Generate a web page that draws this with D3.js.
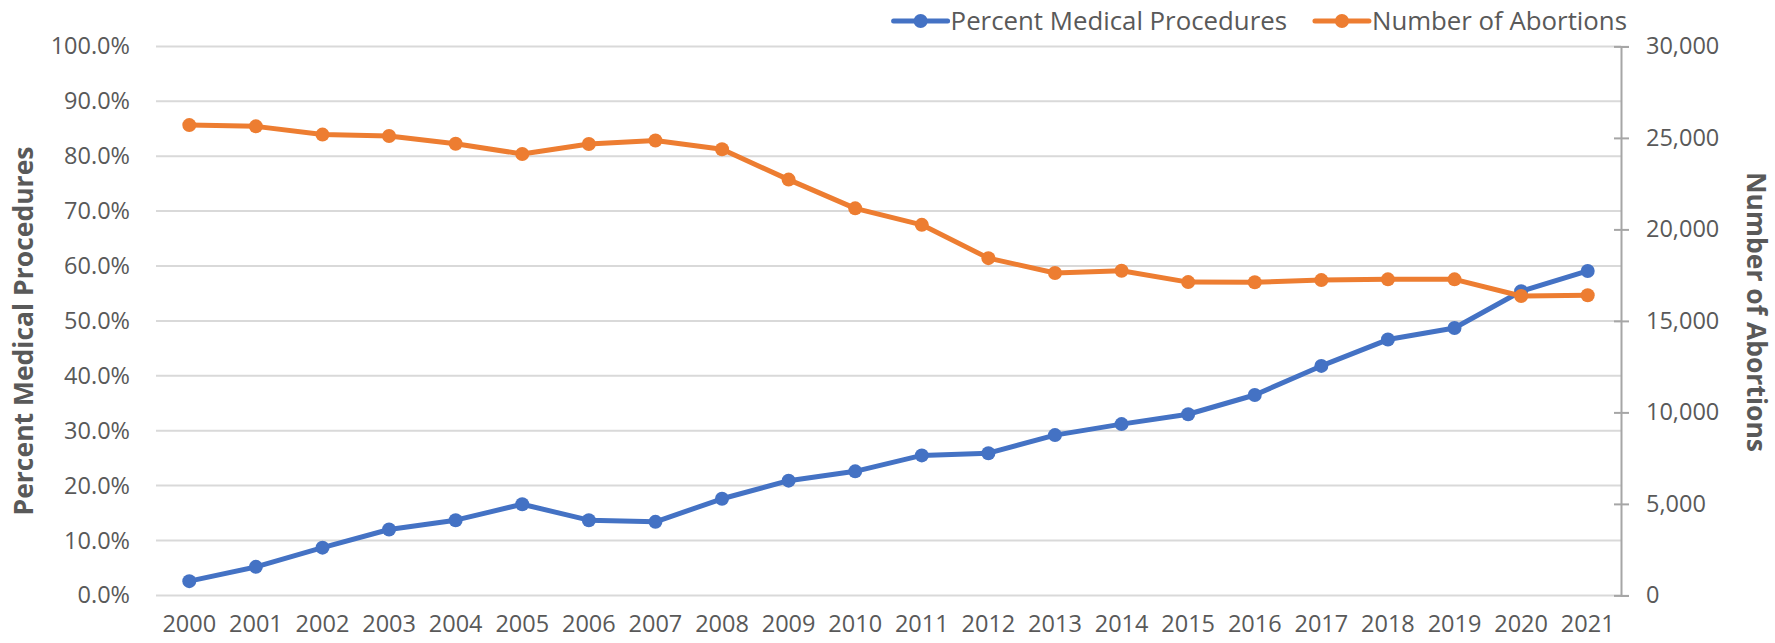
<!DOCTYPE html>
<html lang="en">
<head>
  <meta charset="UTF-8">
  <title>Medical Procedures and Abortions</title>
  <script src="https://d3js.org/d3.v7.min.js"></script>
  <style>
    body { margin: 0; background: #fff; }
    text { font-family: "Open Sans", sans-serif; fill: #595959; }
    .tick text { font-size: 23.5px; }
    .axis-title { font-size: 26.5px; font-weight: bold; }
    .legend text { font-size: 25.8px; }
  </style>
</head>
<body>
  <svg width="1775" height="643"></svg>
  <script>
    const years = ["2000","2001","2002","2003","2004","2005","2006","2007","2008","2009","2010",
                   "2011","2012","2013","2014","2015","2016","2017","2018","2019","2020","2021"];
    const percentMedical = [2.6, 5.2, 8.7, 12.0, 13.7, 16.6, 13.7, 13.4, 17.6, 20.9, 22.6,
                            25.5, 25.9, 29.2, 31.2, 33.0, 36.5, 41.8, 46.6, 48.7, 55.4, 59.1];
    const abortions = [25700, 25630, 25180, 25100, 24680, 24120, 24670, 24860, 24380, 22720, 21150,
                       20250, 18430, 17620, 17740, 17120, 17110, 17230, 17270, 17270, 16360, 16400];
    const leftTicks = [0, 10, 20, 30, 40, 50, 60, 70, 80, 90, 100];
    const rightTicks = [0, 5000, 10000, 15000, 20000, 25000, 30000];

    const svg = d3.select("svg");
    const plotLeft = 156, plotRight = 1621, plotTop = 46.4, plotBottom = 595.4;

    const x = d3.scaleBand().domain(years).range([plotLeft, plotRight]);
    const yL = d3.scaleLinear().domain([0, 100]).range([plotBottom, plotTop]);
    const yR = d3.scaleLinear().domain([0, 30000]).range([plotBottom, plotTop]);
    const cx = d => x(d) + x.bandwidth() / 2;

    // gridlines
    svg.append("g")
       .selectAll("line")
       .data(leftTicks)
       .join("line")
       .attr("x1", plotLeft).attr("x2", plotRight)
       .attr("y1", d => yL(d)).attr("y2", d => yL(d))
       .attr("stroke", "#d9d9d9").attr("stroke-width", 2);

    // left axis (labels only)
    const gl = svg.append("g")
       .attr("transform", `translate(${plotLeft},0)`)
       .call(d3.axisLeft(yL).tickValues(leftTicks).tickSize(0).tickPadding(26)
               .tickFormat(d => d.toFixed(1) + "%"));
    gl.select(".domain").remove();

    // right axis
    const gr = svg.append("g")
       .attr("transform", `translate(${plotRight},0)`)
       .call(d3.axisRight(yR).tickValues(rightTicks).tickSizeOuter(0).tickSize(8).tickPadding(17)
               .tickFormat(d3.format(",")));
    gr.select(".domain").attr("stroke", "#a6a6a6").attr("stroke-width", 2);
    gr.selectAll(".tick line").attr("stroke", "#a6a6a6").attr("stroke-width", 2).attr("x1", -7);

    // bottom axis labels
    const gb = svg.append("g")
       .attr("transform", `translate(0,${plotBottom})`)
       .call(d3.axisBottom(x).tickSize(0).tickPadding(20));
    gb.select(".domain").remove();

    // axis titles
    svg.append("text")
       .attr("class", "axis-title")
       .attr("transform", "translate(33,331) rotate(-90)")
       .attr("text-anchor", "middle")
       .text("Percent Medical Procedures");
    svg.append("text")
       .attr("class", "axis-title")
       .attr("transform", "translate(1747,312) rotate(90)")
       .attr("text-anchor", "middle")
       .text("Number of Abortions");

    // series
    const series = [
      { name: "Percent Medical Procedures", color: "#4472C4", values: percentMedical, y: yL },
      { name: "Number of Abortions", color: "#ED7D31", values: abortions, y: yR }
    ];

    series.forEach(s => {
      const pts = years.map((yr, i) => [cx(yr), s.y(s.values[i])]);
      svg.append("path")
         .attr("d", d3.line()(pts))
         .attr("fill", "none")
         .attr("stroke", s.color)
         .attr("stroke-width", 5)
         .attr("stroke-linejoin", "round");
      svg.append("g")
         .selectAll("circle")
         .data(pts)
         .join("circle")
         .attr("cx", d => d[0]).attr("cy", d => d[1])
         .attr("r", 7)
         .attr("fill", s.color);
    });

    // legend, right aligned
    const legend = svg.append("g").attr("class", "legend");
    let xEnd = 1627;
    series.slice().reverse().forEach(s => {
      const g = legend.append("g");
      const t = g.append("text").attr("y", 21).attr("dy", "0.35em").text(s.name);
      const w = t.node().getComputedTextLength();
      const tx = xEnd - w;
      t.attr("x", tx);
      g.append("line")
       .attr("x1", tx - 57).attr("x2", tx - 3)
       .attr("y1", 21).attr("y2", 21)
       .attr("stroke", s.color).attr("stroke-width", 5).attr("stroke-linecap", "round");
      g.append("circle")
       .attr("cx", tx - 30).attr("cy", 21).attr("r", 7).attr("fill", s.color);
      xEnd = tx - 57 - 28;
    });
  </script>
</body>
</html>
